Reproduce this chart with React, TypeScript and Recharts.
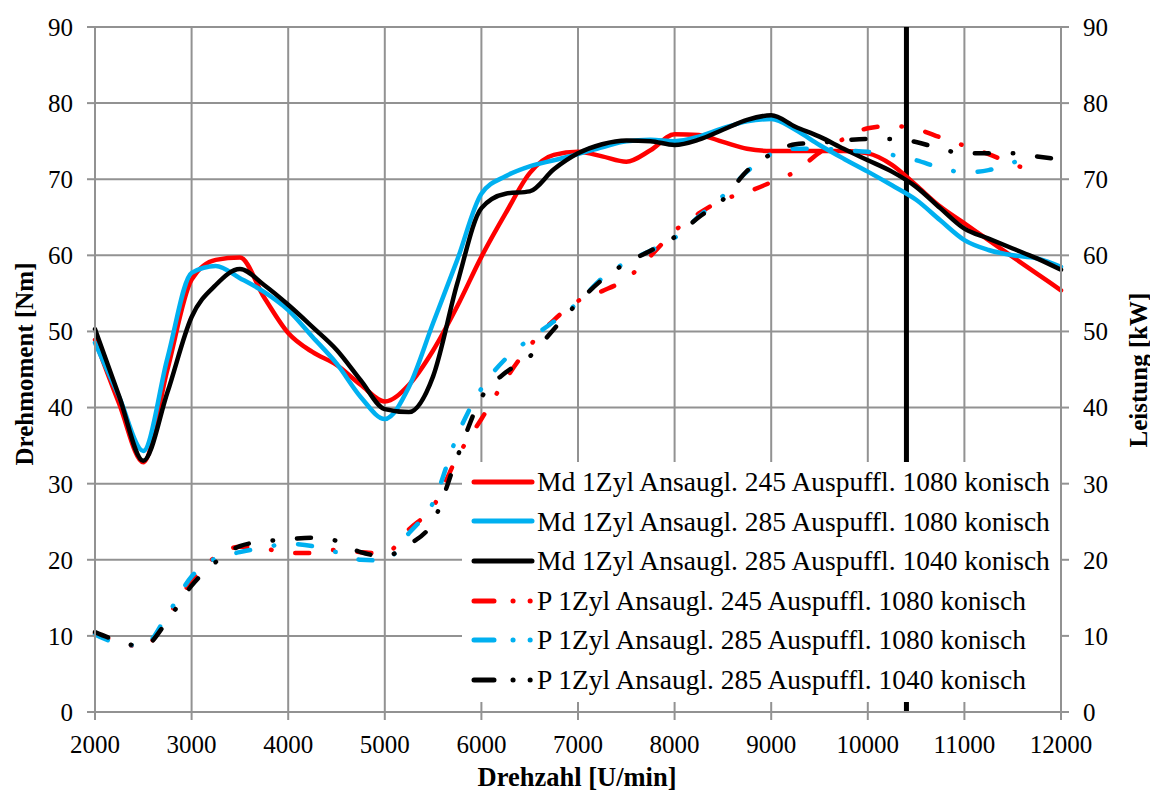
import React from "react";
import {
  LineChart,
  Line,
  XAxis,
  YAxis,
  CartesianGrid,
  ReferenceLine,
  Legend
} from "recharts";

// Drehzahl [U/min], alle 250
const rpm = [
  2000, 2250, 2500, 2750, 3000, 3250, 3500, 3750, 4000, 4250, 4500, 4750, 5000, 5250,
  5500, 5750, 6000, 6250, 6500, 6750, 7000, 7250, 7500, 7750, 8000, 8250, 8500, 8750,
  9000, 9250, 9500, 9750, 10000, 10250, 10500, 10750, 11000, 11250, 11500, 11750, 12000
];

// Drehmoment [Nm]
const mdAns245Aus1080 = [
  48.9, 40.5, 32.8, 45.0, 56.8, 59.4, 59.7, 54.5, 49.8, 47.3, 45.6, 43.0, 40.8, 43.0,
  47.5, 53.3, 59.8, 65.5, 70.8, 73.2, 73.6, 73.0, 72.3, 73.8, 75.9, 75.8, 74.9, 74.0,
  73.7, 73.7, 73.7, 73.7, 73.4, 71.9, 69.2, 66.4, 64.2, 62.0, 59.8, 57.6, 55.4
];
const mdAns285Aus1080 = [
  48.5, 41.4, 34.3, 46.5, 57.7, 58.6, 57.0, 55.2, 52.8, 49.3, 45.8, 41.4, 38.5, 42.7,
  51.1, 59.4, 68.1, 70.4, 71.7, 72.5, 73.3, 74.2, 75.0, 75.2, 75.0, 75.6, 76.7, 77.6,
  77.9, 76.5, 74.5, 72.7, 71.0, 69.2, 67.3, 64.6, 62.0, 60.7, 60.0, 59.6, 58.5
];
const mdAns285Aus1040 = [
  50.3, 41.5, 33.0, 42.0, 51.9, 56.1, 58.2, 56.1, 53.5, 50.6, 47.6, 43.6, 39.8, 39.4,
  44.1, 56.3, 66.2, 68.1, 68.4, 71.3, 73.4, 74.6, 75.1, 75.0, 74.5, 75.2, 76.5, 77.8,
  78.4, 76.9, 75.6, 74.0, 72.5, 71.0, 69.0, 66.2, 63.5, 62.2, 60.9, 59.6, 58.1
];

// Leistung [kW]
const pAns245Aus1080 = [
  10.3, 9.2, 8.5, 12.5, 17.2, 20.4, 21.7, 21.5, 20.9, 20.9, 21.3, 21.0, 20.8, 24.0,
  27.0, 33.5, 38.5, 43.7, 48.1, 51.5, 54.0, 55.3, 56.9, 59.9, 63.2, 65.5, 67.3, 68.3,
  69.6, 71.0, 73.5, 75.3, 76.7, 77.0, 76.6, 75.5, 74.4, 73.3, 72.0, 70.9, null
];
const pAns285Aus1080 = [
  10.2, 9.0, 8.7, 12.8, 17.8, 20.2, 21.0, 21.6, 22.1, 21.8, 21.0, 20.0, 19.9, 23.5,
  27.5, 36.3, 42.5, 46.4, 49.0, 51.3, 53.8, 57.0, 59.1, 60.6, 62.3, 65.1, 67.8, 71.0,
  73.3, 74.0, 74.0, 73.8, 73.6, 73.2, 72.5, 71.5, 70.9, 71.2, 72.2, 72.8, null
];
const pAns285Aus1040 = [
  10.5, 9.3, 8.6, 12.0, 16.6, 19.7, 21.8, 22.4, 22.7, 22.9, 22.5, 21.0, 20.5, 22.0,
  25.0, 33.5, 41.3, 44.6, 46.7, 50.3, 53.8, 56.8, 59.0, 60.6, 62.4, 65.0, 67.3, 71.1,
  73.3, 74.6, 74.8, 75.1, 75.3, 75.3, 74.9, 74.0, 73.4, 73.4, 73.4, 73.0, 72.6
];

const xTicks = [2000, 3000, 4000, 5000, 6000, 7000, 8000, 9000, 10000, 11000, 12000];
const yTicks = [0, 10, 20, 30, 40, 50, 60, 70, 80, 90];
const markerRpm = 10400;

const RED = "#FF0000";
const BLUE = "#00B0F0";
const BLACK = "#000000";
const GRID = "#929292";
const DASHDOT = "14 24 0.5 24";
const FONT = "'Liberation Serif', 'Times New Roman', serif";

const series = [
  { key: "md1", name: "Md 1Zyl Ansaugl. 245 Auspuffl. 1080 konisch", color: RED, values: mdAns245Aus1080, axis: "left", dash: undefined },
  { key: "md2", name: "Md 1Zyl Ansaugl. 285 Auspuffl. 1080 konisch", color: BLUE, values: mdAns285Aus1080, axis: "left", dash: undefined },
  { key: "md3", name: "Md 1Zyl Ansaugl. 285 Auspuffl. 1040 konisch", color: BLACK, values: mdAns285Aus1040, axis: "left", dash: undefined },
  { key: "p1", name: "P 1Zyl Ansaugl. 245 Auspuffl. 1080 konisch", color: RED, values: pAns245Aus1080, axis: "right", dash: DASHDOT },
  { key: "p2", name: "P 1Zyl Ansaugl. 285 Auspuffl. 1080 konisch", color: BLUE, values: pAns285Aus1080, axis: "right", dash: DASHDOT },
  { key: "p3", name: "P 1Zyl Ansaugl. 285 Auspuffl. 1040 konisch", color: BLACK, values: pAns285Aus1040, axis: "right", dash: DASHDOT }
];

const data = rpm.map((x, i) => {
  const row: Record<string, number | null> = { rpm: x };
  series.forEach(s => {
    row[s.key] = s.values[i] ?? null;
  });
  return row;
});

function LegendBox() {
  return (
    <div style={{ background: "#fff", width: "100%", height: "100%", fontFamily: FONT }}>
      {series.map(s => (
        <div key={s.key} style={{ display: "flex", alignItems: "center", height: 39.6 }}>
          <svg width={75} height={10} style={{ flex: "none" }}>
            <line
              x1={12}
              y1={5}
              x2={70}
              y2={5}
              stroke={s.color}
              strokeWidth={5}
              strokeLinecap="round"
              strokeDasharray={s.dash ? "20 19 0.1 17 0.1 50" : undefined}
            />
          </svg>
          <span style={{ fontSize: 27.5, color: "#000", whiteSpace: "nowrap", lineHeight: 1 }}>{s.name}</span>
        </div>
      ))}
    </div>
  );
}

const tickStyle = { fill: "#000", fontSize: 25, fontFamily: FONT };
const titleStyle: React.CSSProperties = {
  position: "absolute",
  fontFamily: FONT,
  fontWeight: "bold",
  fontSize: 25,
  whiteSpace: "nowrap",
  lineHeight: 1,
  color: "#000"
};

export default function App() {
  return (
    <div style={{ position: "absolute", left: 0, top: 0, width: 1150, height: 793, background: "#fff", overflow: "hidden" }}>
      <LineChart
        width={1150}
        height={793}
        data={data}
        margin={{ top: 27, right: 30, bottom: 36, left: 30 }}
        style={{ fontFamily: FONT }}
      >
        <CartesianGrid yAxisId="left" stroke={GRID} strokeWidth={2} />
        <XAxis
          dataKey="rpm"
          type="number"
          domain={[2000, 12000]}
          ticks={xTicks}
          height={45}
          tickSize={8}
          tickMargin={15}
          axisLine={{ stroke: GRID, strokeWidth: 2 }}
          tickLine={{ stroke: GRID, strokeWidth: 2 }}
          tick={tickStyle}
        />
        <YAxis
          yAxisId="left"
          domain={[0, 90]}
          ticks={yTicks}
          width={65}
          tickSize={8}
          tickMargin={14}
          axisLine={{ stroke: GRID, strokeWidth: 2 }}
          tickLine={{ stroke: GRID, strokeWidth: 2 }}
          tick={tickStyle}
        />
        <YAxis
          yAxisId="right"
          orientation="right"
          domain={[0, 90]}
          ticks={yTicks}
          width={59}
          tickSize={8}
          tickMargin={14}
          axisLine={{ stroke: GRID, strokeWidth: 2 }}
          tickLine={{ stroke: GRID, strokeWidth: 2 }}
          tick={tickStyle}
        />
        <ReferenceLine yAxisId="left" x={markerRpm} stroke={BLACK} strokeWidth={5} />
        {series.map(s => (
          <Line
            key={s.key}
            yAxisId={s.axis}
            dataKey={s.key}
            name={s.name}
            type="monotone"
            stroke={s.color}
            strokeWidth={4.5}
            strokeDasharray={s.dash}
            strokeLinecap="round"
            dot={false}
            activeDot={false}
            isAnimationActive={false}
          />
        ))}
        <Legend
          layout="vertical"
          align="center"
          verticalAlign="middle"
          content={() => <LegendBox />}
          wrapperStyle={{ left: 462, top: 462, width: 598, height: 240 }}
        />
      </LineChart>

      <div style={{ ...titleStyle, fontSize: 26.5, left: 577, top: 777, transform: "translate(-50%, -50%)" }}>
        Drehzahl [U/min]
      </div>
      <div style={{ ...titleStyle, left: 24, top: 364, transform: "translate(-50%, -50%) rotate(-90deg)" }}>
        Drehmoment [Nm]
      </div>
      <div style={{ ...titleStyle, left: 1138, top: 370, transform: "translate(-50%, -50%) rotate(-90deg)" }}>
        Leistung [kW]
      </div>
    </div>
  );
}
